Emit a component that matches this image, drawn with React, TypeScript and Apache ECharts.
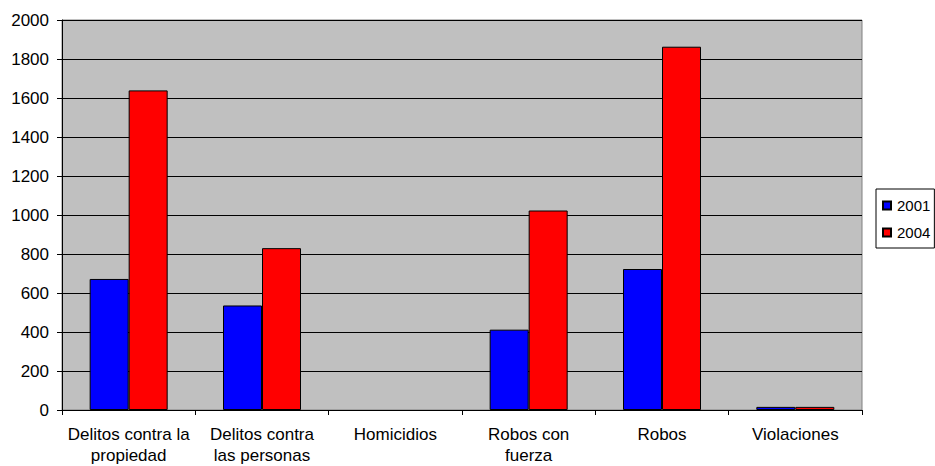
import React, { useEffect, useRef } from "react";
import * as echarts from "echarts";

const categories = [
  "Delitos contra la\npropiedad",
  "Delitos contra\nlas personas",
  "Homicidios",
  "Robos con\nfuerza",
  "Robos",
  "Violaciones",
];
const series2001 = [672, 536, 0, 412, 723, 16];
const series2004 = [1639, 830, 0, 1023, 1863, 16];
const yTicks = { min: 0, max: 2000, interval: 200 };

function toItems(values: number[]) {
  return values.map((v) => (v === 0 ? { value: v, itemStyle: { borderWidth: 0, opacity: 0 } } : v));
}

export default function App() {
  const ref = useRef<HTMLDivElement>(null);
  useEffect(() => {
    if (!ref.current) return;
    const chart = echarts.init(ref.current, undefined, { renderer: "svg" });
    const font = "'Liberation Sans', Arial, sans-serif";
    chart.setOption({
      animation: false,
      textStyle: { fontFamily: font, color: "#000" },
      grid: {
        left: 62,
        right: 73,
        top: 20,
        bottom: 53,
        show: true,
        backgroundColor: "#c0c0c0",
        borderColor: "#808080",
        borderWidth: 1,
      },
      legend: {
        orient: "vertical",
        left: 876,
        top: 189,
        padding: [9, 4, 8, 6],
        itemGap: 12,
        itemWidth: 8,
        itemHeight: 8,
        borderColor: "#000",
        borderWidth: 1,
        backgroundColor: "#fff",
        icon: "rect",
        textStyle: { fontFamily: font, fontSize: 15, color: "#000", padding: [0, 0, 0, 1] },
        data: ["2001", "2004"],
      },
      xAxis: {
        type: "category",
        data: categories,
        axisLine: { lineStyle: { color: "#000", width: 1 } },
        axisTick: { show: true, length: 5, lineStyle: { color: "#000" } },
        axisLabel: {
          fontFamily: font,
          fontSize: 17,
          color: "#000",
          margin: 14,
          lineHeight: 21,
          interval: 0,
        },
      },
      yAxis: {
        type: "value",
        min: yTicks.min,
        max: yTicks.max,
        interval: yTicks.interval,
        axisLine: { show: true, lineStyle: { color: "#000", width: 1 } },
        axisTick: { show: true, length: 5, lineStyle: { color: "#000" } },
        axisLabel: {
          fontFamily: font,
          fontSize: 17,
          color: "#000",
          margin: 13,
          formatter: (v: number) => String(v),
        },
        splitLine: { show: true, lineStyle: { color: "#000", width: 1 } },
      },
      series: [
        {
          name: "2001",
          type: "bar",
          data: toItems(series2001),
          barWidth: 39,
          barGap: "0%",
          itemStyle: { color: "#0000ff", borderColor: "#000", borderWidth: 1 },
        },
        {
          name: "2004",
          type: "bar",
          data: toItems(series2004),
          barWidth: 39,
          barGap: "0%",
          itemStyle: { color: "#ff0000", borderColor: "#000", borderWidth: 1 },
        },
      ],
    });
    return () => chart.dispose();
  }, []);
  return <div ref={ref} style={{ width: 935, height: 466, position: "absolute", left: 0, top: 0, background: "#fff" }} />;
}
